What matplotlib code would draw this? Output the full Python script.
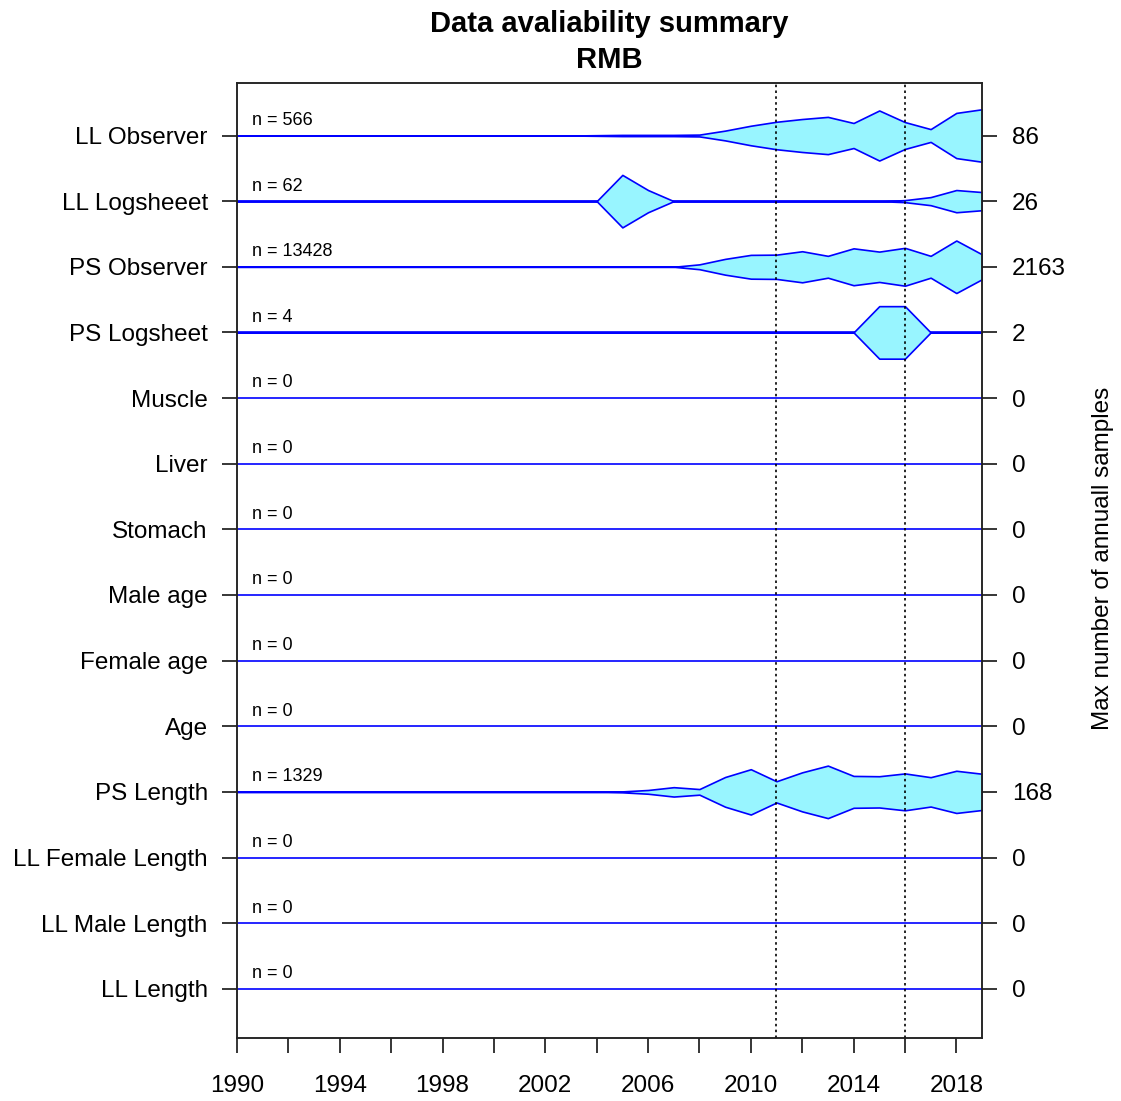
import matplotlib
matplotlib.use("Agg")
import matplotlib.pyplot as plt
import numpy as np

plt.rcParams['font.family'] = ['Liberation Sans', 'DejaVu Sans']

# rows, top to bottom
labels = ['LL Observer', 'LL Logsheeet', 'PS Observer', 'PS Logsheet', 'Muscle',
          'Liver', 'Stomach', 'Male age', 'Female age', 'Age', 'PS Length',
          'LL Female Length', 'LL Male Length', 'LL Length']

years = np.arange(1990, 2020)

# annual sample counts (only years with data)
ll_obs_years = [2004, 2005, 2006, 2007, 2008, 2009, 2010, 2011, 2012, 2013, 2014, 2015, 2016, 2017, 2018, 2019]
ll_obs_counts = [1, 2, 2, 2, 3, 16, 32, 45, 54, 61, 41, 82, 44, 21, 74, 86]
ll_log_years = [2005, 2006, 2016, 2017, 2018, 2019]
ll_log_counts = [26, 11, 1, 4, 11, 9]
ps_obs_years = [2008, 2009, 2010, 2011, 2012, 2013, 2014, 2015, 2016, 2017, 2018, 2019]
ps_obs_counts = [200, 650, 980, 1000, 1280, 900, 1520, 1250, 1560, 900, 2163, 1025]
ps_log_years = [2015, 2016]
ps_log_counts = [2, 2]
ps_len_years = [2005, 2006, 2007, 2008, 2009, 2010, 2011, 2012, 2013, 2014, 2015, 2016, 2017, 2018, 2019]
ps_len_counts = [3, 12, 30, 18, 95, 145, 68, 125, 168, 102, 100, 118, 94, 135, 116]

series = {
    'LL Observer': (ll_obs_years, ll_obs_counts),
    'LL Logsheeet': (ll_log_years, ll_log_counts),
    'PS Observer': (ps_obs_years, ps_obs_counts),
    'PS Logsheet': (ps_log_years, ps_log_counts),
    'PS Length': (ps_len_years, ps_len_counts),
}

vlines = [2011, 2016]


def full_counts(name):
    c = np.zeros(len(years))
    if name in series:
        yrs, cnt = series[name]
        for y, v in zip(yrs, cnt):
            c[y - years[0]] = v
    return c


fig = plt.figure(figsize=(11.21, 11.01), dpi=100)
ax = fig.add_axes([237 / 1121, 1 - 1038 / 1101, (982 - 237) / 1121, (1038 - 83) / 1101])

nrow = len(labels)
ypos = [nrow - i for i in range(nrow)]
maxes = []
for lab, yc in zip(labels, ypos):
    c = full_counts(lab)
    mx = c.max()
    maxes.append(int(mx))
    ax.plot([years[0], years[-1]], [yc, yc], color='blue', lw=1.2, zorder=1)
    if mx > 0:
        hw = 0.4 * c / mx
        ax.fill_between(years, yc - hw, yc + hw, facecolor='#98F5FF',
                        edgecolor='blue', lw=1.2, zorder=2)
    ax.text(1990.58, yc + 0.23, 'n = %d' % int(c.sum()), fontsize=13,
            va='center', ha='left')

for v in vlines:
    ax.axvline(v, color='black', ls=(0, (1.5, 2)), lw=1.2, zorder=4)

ax.set_xlim(1990, 2019)
ax.set_ylim(0.25, 14.8)
xt = np.arange(1990, 2019, 2)
ax.set_xticks(xt)
ax.set_xticklabels([str(t) if (t - 1990) % 4 == 0 else '' for t in xt])
ax.tick_params(axis='x', length=10.5, width=1.1, pad=16, labelsize=17.5)
ax.set_yticks(ypos)
ax.set_yticklabels(labels)
ax.tick_params(axis='y', length=10.5, width=1.1, pad=10.5, labelsize=17.5)
for s in ax.spines.values():
    s.set_linewidth(1.1)
    s.set_color('#222222')

ax2 = ax.twinx()
ax2.set_ylim(ax.get_ylim())
ax2.set_yticks(ypos)
ax2.set_yticklabels([str(m) for m in maxes])
ax2.tick_params(axis='y', length=10.5, width=1.1, pad=11, labelsize=17.5)
for s in ax2.spines.values():
    s.set_linewidth(1.1)
    s.set_color('#222222')

fig.text(609.5 / 1121, 1 - 42 / 1101, 'Data avaliability summary\nRMB',
         ha='center', va='center', fontsize=21, fontweight='bold', linespacing=1.35)
fig.text(1103 / 1121, 1 - 558 / 1101, 'Max number of annuall samples',
         rotation=90, ha='center', va='center', fontsize=17.5)

fig.savefig('out.png', dpi=100)
